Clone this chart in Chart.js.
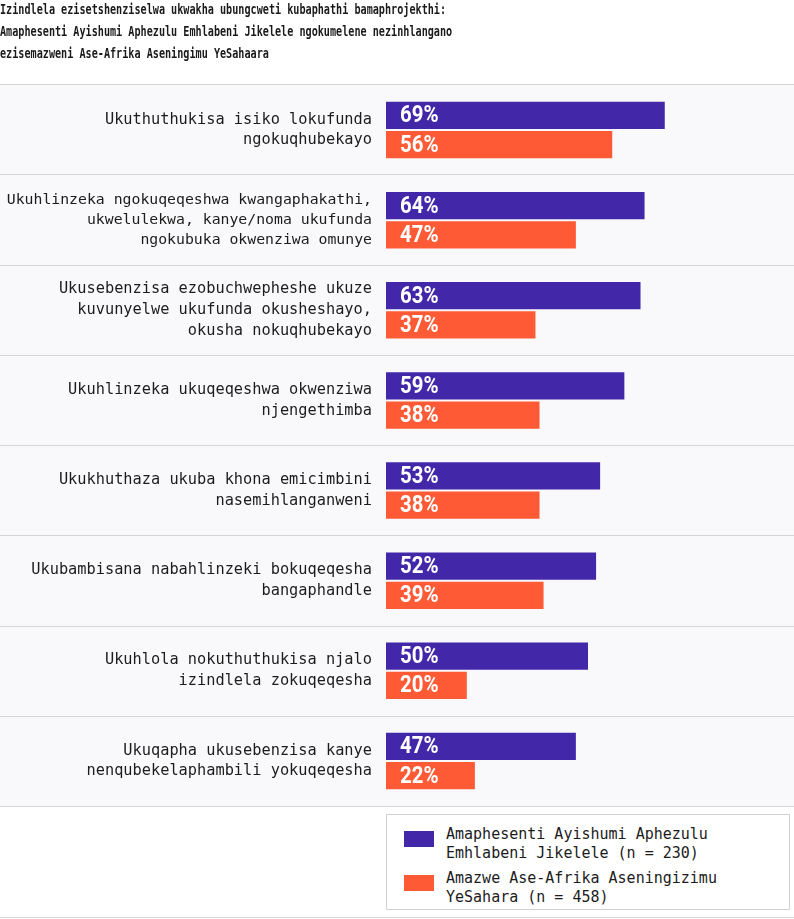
<!DOCTYPE html>
<html>
<head>
<meta charset="utf-8">
<script src="https://cdn.jsdelivr.net/npm/chart.js@4.4.1/dist/chart.umd.min.js"></script>
<style>
  html, body { margin: 0; padding: 0; background: #ffffff; }
  #wrap { position: relative; width: 794px; height: 919px; overflow: hidden; }
  #title { position: absolute; left: 0; top: -2px; font-family: "DejaVu Sans Mono", monospace; font-weight: bold;
           font-size: 14px; line-height: 22px; color: #1a1a1a; white-space: nowrap;
           transform: scaleX(0.725); transform-origin: 0 0; }
  canvas { position: absolute; left: 0; top: 0; }
  #legend { position: absolute; left: 386px; top: 814px; width: 402px; height: 94px; border: 1px solid #d2d2d2; background: #fff;
            font-family: "DejaVu Sans Mono", monospace; font-size: 15px; color: #1c1c1c; }
  .item { position: absolute; left: 17px; }
  .sw { position: absolute; left: 0; width: 30px; height: 16px; }
  .tx { position: absolute; left: 42px; line-height: 19px; white-space: nowrap; }
</style>
</head>
<body>
<div id="wrap">
  <canvas id="c" width="794" height="919"></canvas>
  <div id="title">Izindlela ezisetshenziselwa ukwakha ubungcweti kubaphathi bamaphrojekthi:<br>Amaphesenti Ayishumi Aphezulu Emhlabeni Jikelele ngokumelene nezinhlangano<br>ezisemazweni Ase-Afrika Aseningimu YeSahaara</div>
  <div id="legend"></div>
</div>
<script>
const categories = [
  ["Ukuthuthukisa isiko lokufunda", "ngokuqhubekayo"],
  ["Ukuhlinzeka ngokuqeqeshwa kwangaphakathi,", "ukwelulekwa, kanye/noma ukufunda", "ngokubuka okwenziwa omunye"],
  ["Ukusebenzisa ezobuchwepheshe ukuze", "kuvunyelwe ukufunda okusheshayo,", "okusha nokuqhubekayo"],
  ["Ukuhlinzeka ukuqeqeshwa okwenziwa", "njengethimba"],
  ["Ukukhuthaza ukuba khona emicimbini", "nasemihlanganweni"],
  ["Ukubambisana nabahlinzeki bokuqeqesha", "bangaphandle"],
  ["Ukuhlola nokuthuthukisa njalo", "izindlela zokuqeqesha"],
  ["Ukuqapha ukusebenzisa kanye", "nenqubekelaphambili yokuqeqesha"]
];
const seriesNames = [
  ["Amaphesenti Ayishumi Aphezulu", "Emhlabeni Jikelele (n = 230)"],
  ["Amazwe Ase-Afrika Aseningizimu", "YeSahara (n = 458)"]
];
const topTenGlobal = [69, 64, 63, 59, 53, 52, 50, 47];
const subSaharan = [56, 47, 37, 38, 38, 39, 20, 22];
const colors = ["#4228a9", "#ff5a36"];

// legend (HTML)
const leg = document.getElementById('legend');
seriesNames.forEach((lines, i) => {
  const it = document.createElement('div');
  it.className = 'item';
  it.style.top = (i === 0 ? 10 : 54) + 'px';
  it.innerHTML = '<div class="sw" style="top:6px;background:' + colors[i] + '"></div><div class="tx">' + lines.join('<br>') + '</div>';
  leg.appendChild(it);
});

const rowsPlugin = {
  id: 'rows',
  beforeDraw(chart) {
    const ctx = chart.ctx, area = chart.chartArea;
    const n = chart.data.labels.length;
    const top = area.top - 1, bottom = area.bottom;
    const step = (bottom - top) / n;
    ctx.save();
    ctx.fillStyle = '#f9f9fb';
    ctx.fillRect(0, top, chart.width, bottom - top);
    ctx.strokeStyle = '#d6d6d6';
    ctx.lineWidth = 1;
    for (let i = 0; i <= n; i++) {
      const yy = Math.round(top + i * step) + 0.5;
      ctx.beginPath(); ctx.moveTo(0, yy); ctx.lineTo(chart.width, yy); ctx.stroke();
    }
    ctx.beginPath(); ctx.moveTo(0, 917.5); ctx.lineTo(chart.width, 917.5); ctx.stroke();
    ctx.restore();
  },
  afterDatasetsDraw(chart) {
    const ctx = chart.ctx;
    chart.data.datasets.forEach((ds, di) => {
      chart.getDatasetMeta(di).data.forEach((bar, i) => {
        ctx.save();
        ctx.translate(bar.base + 14, bar.y + 1);
        ctx.scale(0.85, 1);
        ctx.fillStyle = '#ffffff';
        ctx.font = 'bold 24px Roboto, sans-serif';
        ctx.textAlign = 'left';
        ctx.textBaseline = 'middle';
        ctx.fillText(ds.data[i] + '%', 0, 0);
        ctx.restore();
      });
    });
  }
};

new Chart(document.getElementById('c'), {
  type: 'bar',
  data: {
    labels: categories,
    datasets: [
      { label: seriesNames[0].join(' '), data: topTenGlobal, backgroundColor: colors[0] },
      { label: seriesNames[1].join(' '), data: subSaharan, backgroundColor: colors[1] }
    ]
  },
  options: {
    responsive: false,
    animation: false,
    indexAxis: 'y',
    layout: { padding: { top: 85, bottom: 113, left: 0, right: 4 } },
    datasets: { bar: { categoryPercentage: 0.65, barPercentage: 0.93 } },
    plugins: { legend: { display: false }, tooltip: { enabled: false } },
    scales: {
      x: { display: false, min: 0, max: 100 },
      y: {
        afterFit(scale) { scale.width = 386; },
        grid: { display: false, drawTicks: false },
        border: { display: false },
        ticks: {
          padding: 14,
          color: '#1c1c1c',
          font: (c) => ({ family: '"DejaVu Sans Mono", monospace', size: c.index === 1 ? 14.8 : 15.3, lineHeight: 1.36 })
        }
      }
    }
  },
  plugins: [rowsPlugin]
});
</script>
</body>
</html>
